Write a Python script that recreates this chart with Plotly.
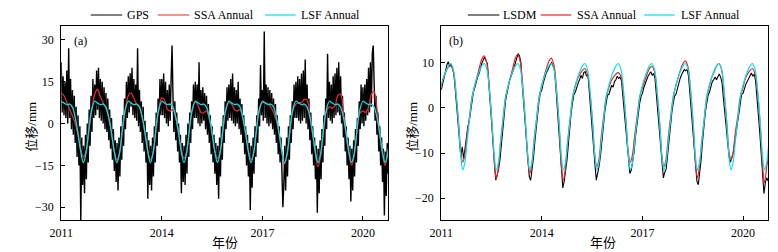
import plotly.graph_objects as go

# ---------------- data ----------------
years = [2011, 2012, 2013, 2014, 2015, 2016, 2017, 2018, 2019, 2020]

# Panel (a): sample phases within each year (fraction of year)
phase_a = [0.00, 0.08, 0.17, 0.25, 0.33, 0.42, 0.50, 0.58, 0.66, 0.74, 0.82, 0.90]

lsf_a = [
    [8.0, 7.4, 6.8, 7.0, 6.0, 2.0, -3.5, -10.0, -14.0, -10.5, -2.5, 4.5],
    [8.0, 7.4, 6.8, 7.0, 6.0, 2.0, -3.5, -10.0, -14.0, -10.5, -2.5, 4.5],
    [8.0, 7.4, 6.8, 7.0, 6.0, 2.0, -3.5, -10.0, -14.0, -10.5, -2.5, 4.5],
    [8.0, 7.4, 6.8, 7.0, 6.0, 2.0, -3.5, -10.0, -14.0, -10.5, -2.5, 4.5],
    [8.0, 7.4, 6.8, 7.0, 6.0, 2.0, -3.5, -10.0, -14.0, -10.5, -2.5, 4.5],
    [8.0, 7.4, 6.8, 7.0, 6.0, 2.0, -3.5, -10.0, -14.0, -10.5, -2.5, 4.5],
    [8.0, 7.4, 6.8, 7.0, 6.0, 2.0, -3.5, -10.0, -14.0, -10.5, -2.5, 4.5],
    [8.0, 7.4, 6.8, 7.0, 6.0, 2.0, -3.5, -10.0, -14.0, -10.5, -2.5, 4.5],
    [8.0, 7.4, 6.8, 7.0, 6.0, 2.0, -3.5, -10.0, -14.0, -10.5, -2.5, 4.5],
    [8.0, 7.4, 6.8, 7.0, 6.0, 2.0, -3.5, -10.0, -14.0, -10.5, -2.5],
]

ssa_a = [
    [11.0, 10.0, 7.5, 5.0, 3.0, 0.0, -4.0, -9.0, -12.0, -10.0, -3.0, 4.0],
    [10.5, 12.3, 9.5, 7.5, 5.5, 2.0, -3.5, -9.5, -13.0, -10.5, -3.0, 4.0],
    [10.0, 11.0, 9.0, 7.0, 6.0, 2.0, -3.5, -9.5, -13.0, -10.5, -3.0, 4.5],
    [9.3, 8.5, 5.0, 4.5, 5.0, 2.0, -3.0, -9.0, -12.5, -10.0, -2.5, 4.5],
    [7.8, 6.5, 4.0, 3.8, 4.5, 1.5, -3.5, -9.5, -12.5, -10.0, -2.5, 4.5],
    [7.5, 7.0, 5.0, 4.5, 5.0, 1.5, -3.5, -9.5, -13.0, -10.5, -2.5, 4.5],
    [7.5, 7.5, 7.0, 6.0, 4.0, 1.0, -4.0, -10.0, -14.5, -11.0, -3.0, 4.5],
    [7.0, 7.5, 7.5, 8.7, 8.5, 3.0, -4.0, -11.0, -15.5, -11.5, -3.0, 4.0],
    [6.0, 5.5, 6.5, 10.0, 10.5, 4.0, -4.0, -11.0, -15.0, -11.5, -3.0, 3.5],
    [4.5, 4.0, 6.0, 10.5, 11.5, 5.0, -4.0, -11.0, -15.0, -10.5, -3.0],
]

# GPS daily series, read every ~10 days (36 samples per year)
phase_gps = [k / 36 for k in range(36)]
gps = [
    [22, 4, 17, 3, 15, 2, 19, 0, 27, 2, 16, -2, 12, -4, 10, -7, 6, -12, 3, -15, -1, -35, -5, -22, -8, -25, -4, -20, 0, -14, 5, -8, 10, -3, 16, 2],
    [14, 3, 19, 5, 20, 2, 16, 1, 15, 0, 13, -2, 11, -3, 9, -6, 5, -9, 2, -13, -2, -17, -6, -21, -7, -24, -5, -19, -1, -13, 3, -8, 9, -2, 15, 2],
    [17, 4, 18, 6, 20, 3, 16, 2, 14, 1, 27, -1, 12, -3, 8, -7, 6, -10, 1, -14, -3, -27, -6, -22, -8, -24, -5, -19, -1, -14, 4, -8, 9, -3, 16, 3],
    [16, 3, 18, 2, 15, 0, 12, -1, 14, 1, 16, 28, 10, -3, 8, -6, 4, -10, 0, -14, -4, -25, -7, -21, -8, -22, -4, -18, 0, -12, 4, -7, 8, -2, 14, 2],
    [15, 2, 14, 0, 22, -1, 12, 0, 13, 1, 11, -2, 10, -4, 7, -7, 3, -11, -1, -14, -4, -18, -7, -22, -8, -27, -5, -19, -1, -13, 3, -7, 8, -2, 13, 1],
    [14, 2, 16, 1, 18, 0, 13, -1, 12, 0, 15, -2, 9, -4, 7, -7, 3, -11, -1, -15, -4, -19, -7, -31, -8, -23, -5, -18, -1, -12, 3, -7, 9, -1, 21, 3],
    [12, 1, 33, 2, 14, 0, 13, -1, 12, 0, 11, -2, 9, -4, 7, -7, 3, -11, -1, -14, -5, -18, -30, -22, -8, -24, -5, -19, -1, -13, 3, -7, 8, -2, 14, 2],
    [15, 2, 17, 1, 16, 0, 18, 1, 19, 2, 23, 0, 14, -2, 9, -6, 4, -11, -1, -15, -5, -20, -8, -32, -9, -25, -6, -20, -2, -14, 3, -8, 9, -2, 25, 2],
    [15, 1, 14, 0, 17, 2, 18, 3, 20, 4, 22, 3, 17, 0, 10, -5, 4, -10, -1, -15, -5, -20, -8, -28, -9, -24, -6, -19, -2, -14, 2, -8, 8, -2, 14, 0],
    [13, -1, 14, 1, 16, 3, 20, 4, 22, 6, 25, 28, 16, 1, 10, -4, 4, -10, -1, -15, -5, -21, -9, -33, -10, -26, -7, -18],
]

# Panel (b)
phase_b = [0.00, 0.07, 0.14, 0.21, 0.28, 0.36, 0.44, 0.52, 0.58, 0.64, 0.70, 0.77, 0.85, 0.92]

lsf_b = [
    [5.0, 6.8, 8.2, 9.3, 9.8, 8.5, 3.5, -4.0, -10.5, -13.7, -12.3, -7.5, -2.0, 2.3],
    [5.0, 6.8, 8.2, 9.3, 9.8, 8.5, 3.5, -4.0, -10.5, -13.7, -12.3, -7.5, -2.0, 2.3],
    [5.0, 6.8, 8.2, 9.3, 9.8, 8.5, 3.5, -4.0, -10.5, -13.7, -12.3, -7.5, -2.0, 2.3],
    [5.0, 6.8, 8.2, 9.3, 9.8, 8.5, 3.5, -4.0, -10.5, -13.7, -12.3, -7.5, -2.0, 2.3],
    [5.0, 6.8, 8.2, 9.3, 9.8, 8.5, 3.5, -4.0, -10.5, -13.7, -12.3, -7.5, -2.0, 2.3],
    [5.0, 6.8, 8.2, 9.3, 9.8, 8.5, 3.5, -4.0, -10.5, -13.7, -12.3, -7.5, -2.0, 2.3],
    [5.0, 6.8, 8.2, 9.3, 9.8, 8.5, 3.5, -4.0, -10.5, -13.7, -12.3, -7.5, -2.0, 2.3],
    [5.0, 6.8, 8.2, 9.3, 9.8, 8.5, 3.5, -4.0, -10.5, -13.7, -12.3, -7.5, -2.0, 2.3],
    [5.0, 6.8, 8.2, 9.3, 9.8, 8.5, 3.5, -4.0, -10.5, -13.7, -12.3, -7.5, -2.0, 2.3],
    [5.0, 6.8, 8.2, 9.3, 9.8, 8.5, 3.5, -4.0, -10.5, -13.7, -12.3, -7.5],
]

ssa_b = [
    [5.0, 6.8, 8.0, 9.0, 9.3, 8.0, 3.0, -3.5, -9.5, -12.0, -10.5, -6.0, -1.5, 2.5],
    [5.0, 7.0, 9.0, 10.8, 11.5, 9.8, 4.0, -4.5, -12.0, -15.7, -13.5, -7.5, -2.0, 2.5],
    [5.0, 7.0, 9.0, 11.0, 11.8, 10.0, 4.0, -4.5, -11.5, -14.5, -12.5, -7.0, -2.0, 2.5],
    [5.0, 7.0, 8.8, 10.3, 11.0, 9.5, 3.8, -4.5, -12.5, -16.0, -13.5, -7.5, -2.0, 2.5],
    [5.0, 6.5, 7.5, 8.3, 8.7, 7.5, 3.0, -4.0, -10.5, -13.0, -11.5, -6.5, -1.5, 2.5],
    [4.5, 6.0, 6.8, 7.5, 7.8, 7.0, 2.5, -4.0, -10.0, -12.0, -10.5, -6.0, -1.5, 2.5],
    [4.5, 6.0, 7.5, 8.7, 9.2, 8.0, 3.0, -4.0, -10.5, -13.0, -11.5, -6.5, -1.5, 2.5],
    [5.0, 6.8, 8.5, 9.8, 10.4, 9.0, 3.5, -4.5, -12.0, -15.5, -13.0, -7.5, -2.0, 2.5],
    [5.0, 6.8, 8.0, 9.2, 9.8, 8.5, 3.0, -3.5, -9.5, -11.5, -10.0, -5.5, -1.5, 2.5],
    [4.5, 6.5, 7.5, 8.3, 8.7, 7.5, 3.0, -4.5, -12.5, -16.5, -13.5, -10.0],
]

# LSDM, read twice a month (24 samples per year)
phase_lsdm = [k / 24 for k in range(24)]
lsdm = [
    [4.0, 5.2, 6.5, 8.0, 9.5, 10.2, 9.2, 9.6, 8.8, 7.5, 4.2, 0.5, -3.8, -7.5, -10.8, -8.6, -11.2, -9.0, -6.5, -4.2, -3.0, -0.8, 1.8, 3.5],
    [4.5, 5.8, 6.8, 7.5, 8.9, 9.8, 10.6, 11.2, 10.4, 9.8, 5.5, 1.0, -3.5, -8.0, -12.0, -16.0, -14.8, -13.6, -11.5, -7.8, -4.2, -1.5, 1.5, 3.2],
    [4.8, 6.2, 7.0, 7.8, 8.8, 9.9, 11.0, 12.0, 11.5, 10.0, 5.0, 0.5, -4.0, -8.5, -12.5, -15.2, -16.0, -13.8, -11.0, -7.5, -4.0, -1.2, 1.6, 3.4],
    [4.0, 5.5, 6.8, 7.6, 8.2, 9.0, 9.6, 10.0, 9.3, 8.5, 4.8, 0.2, -4.2, -8.8, -13.5, -17.7, -16.2, -14.0, -11.5, -8.0, -4.0, -1.0, 1.2, 3.0],
    [3.5, 4.8, 5.5, 6.2, 7.2, 6.5, 7.8, 8.0, 7.0, 7.4, 3.0, -0.5, -4.5, -8.5, -12.5, -16.0, -14.5, -12.8, -10.5, -7.0, -3.8, -1.0, 1.0, 2.8],
    [3.0, 4.2, 5.0, 4.6, 5.8, 6.2, 7.0, 6.5, 6.8, 6.0, 2.5, -1.0, -4.5, -8.5, -12.0, -14.5, -13.8, -12.0, -9.8, -6.5, -3.5, -1.2, 1.0, 2.5],
    [3.2, 4.5, 5.5, 6.2, 7.0, 7.5, 8.0, 7.2, 7.6, 6.5, 3.0, -0.8, -4.5, -8.5, -12.5, -15.5, -14.2, -13.5, -10.5, -7.0, -3.8, -1.2, 1.0, 2.6],
    [3.0, 4.3, 5.6, 6.5, 7.3, 7.8, 8.5, 8.2, 8.5, 7.0, 3.2, -1.0, -5.0, -9.5, -14.0, -16.2, -17.0, -14.8, -11.5, -7.5, -4.0, -1.0, 1.0, 2.8],
    [3.5, 4.6, 5.8, 6.2, 6.8, 6.2, 7.0, 7.5, 6.8, 5.5, 2.0, -1.2, -4.5, -8.0, -10.8, -12.0, -11.2, -10.0, -7.8, -5.5, -3.0, -0.8, 1.2, 3.0],
    [3.2, 4.5, 5.2, 5.8, 6.5, 7.2, 7.7, 7.0, 7.5, 6.0, 2.5, -1.5, -5.5, -10.0, -15.0, -19.0, -16.5, -15.5, -16.2, -12.0],
]

x_ticks = [2011, 2014, 2017, 2020]
y_ticks_a = [-30, -15, 0, 15, 30]
y_ticks_b = [-20, -10, 0, 10]

legend_a = ["GPS", "SSA Annual", "LSF Annual"]
legend_b = ["LSDM", "SSA Annual", "LSF Annual"]


def flatten(rows, phases):
    xs, ys = [], []
    for yr, row in zip(years, rows):
        for ph, v in zip(phases, row):
            xs.append(yr + ph)
            ys.append(v)
    return xs, ys


BLACK = "#000000"
RED = "#e8262b"
CYAN = "#00e1ea"
SERIF = "Liberation Serif, Times New Roman, serif"
CJK = "Liberation Serif, Noto Sans CJK SC, serif"

fig = go.Figure()

gx, gy = flatten(gps, phase_gps)
sx, sy = flatten(ssa_a, phase_a)
lx, ly = flatten(lsf_a, phase_a)
fig.add_trace(go.Scatter(x=gx, y=gy, mode="lines", name=legend_a[0],
                         line=dict(color=BLACK, width=1.4),
                         xaxis="x", yaxis="y"))
fig.add_trace(go.Scatter(x=sx, y=sy, mode="lines", name=legend_a[1],
                         line=dict(color=RED, width=1.3, shape="spline"),
                         xaxis="x", yaxis="y"))
fig.add_trace(go.Scatter(x=lx, y=ly, mode="lines", name=legend_a[2],
                         line=dict(color=CYAN, width=1.3, shape="spline"),
                         xaxis="x", yaxis="y"))

bx, by = flatten(lsdm, phase_lsdm)
s2x, s2y = flatten(ssa_b, phase_b)
l2x, l2y = flatten(lsf_b, phase_b)
fig.add_trace(go.Scatter(x=bx, y=by, mode="lines", name=legend_b[0],
                         line=dict(color=BLACK, width=1.1),
                         xaxis="x2", yaxis="y2"))
fig.add_trace(go.Scatter(x=s2x, y=s2y, mode="lines", name=legend_b[1],
                         line=dict(color=RED, width=1.2, shape="spline"),
                         xaxis="x2", yaxis="y2"))
fig.add_trace(go.Scatter(x=l2x, y=l2y, mode="lines", name=legend_b[2],
                         line=dict(color=CYAN, width=1.2, shape="spline"),
                         xaxis="x2", yaxis="y2"))

W, H = 778, 252
ydom = [1 - 220 / H, 1 - 26 / H]

axis_common = dict(showline=True, linecolor="black", linewidth=1, mirror=True,
                   ticks="inside", ticklen=4, tickcolor="black", tickwidth=1,
                   showgrid=False, zeroline=False,
                   tickfont=dict(family=SERIF, size=12, color="black"))

# manual legends (line sample + label), pixel positions converted to paper
shapes = []
annotations = []
leg_y = 1 - 15 / H
leg_items = [
    (legend_a[0], BLACK, 80, 112, 115),
    (legend_a[1], RED, 148, 180, 183),
    (legend_a[2], CYAN, 257, 288, 291),
    (legend_b[0], BLACK, 463, 495, 497),
    (legend_b[1], RED, 537, 568, 572),
    (legend_b[2], CYAN, 642, 673, 677),
]
for label, col, x0, x1, xt in leg_items:
    shapes.append(dict(type="line", xref="paper", yref="paper",
                       x0=x0 / W, x1=x1 / W, y0=leg_y, y1=leg_y,
                       line=dict(color=col, width=1.2)))
    annotations.append(dict(text=label, x=xt / W, y=leg_y, xref="paper", yref="paper",
                            xanchor="left", yanchor="middle", showarrow=False,
                            font=dict(family=SERIF, size=12, color="black")))


def centered(text, px, py, font, angle=0):
    return dict(text=text, x=px / W, y=1 - py / H, xref="paper", yref="paper",
                xanchor="center", yanchor="middle", textangle=angle,
                showarrow=False, font=font)


f_lab = dict(family=SERIF, size=12, color="black")
f_cjk = dict(family=CJK, size=13, color="black")
annotations += [
    centered("(a)", 70, 41, f_lab),
    centered("(b)", 451, 41, f_lab),
    centered("年份", 216, 242, f_cjk),
    centered("年份", 600, 242, f_cjk),
    centered("位移/mm", 19, 127, f_cjk, -90),
    centered("位移/mm", 406, 127, f_cjk, -90),
]

fig.update_layout(
    width=W, height=H,
    margin=dict(l=0, r=0, t=0, b=0),
    paper_bgcolor="white", plot_bgcolor="white",
    showlegend=False,
    xaxis=dict(domain=[50 / W, 382 / W], range=[2011, 2020.75], tickvals=x_ticks,
               anchor="y", ticklabelstandoff=2, **axis_common),
    yaxis=dict(domain=ydom, range=[-34.6, 35], tickvals=y_ticks_a, anchor="x",
               ticklabelstandoff=4, **axis_common),
    xaxis2=dict(domain=[436 / W, 768 / W], range=[2011, 2020.75], tickvals=x_ticks,
                anchor="y2", ticklabelstandoff=2, **axis_common),
    yaxis2=dict(domain=ydom, range=[-24.8, 18.1], tickvals=y_ticks_b, anchor="x2",
                ticklabelstandoff=4, **axis_common),
    shapes=shapes,
    annotations=annotations,
)

fig.write_html("out.html", post_script="document.body.style.margin='0px';",
               config={"displayModeBar": False})
